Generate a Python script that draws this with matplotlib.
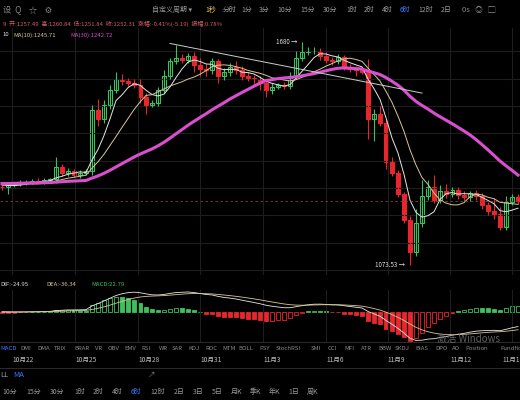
import matplotlib
matplotlib.use("Agg")
import matplotlib.pyplot as plt
import numpy as np
import pandas as pd

plt.rcParams['font.family'] = ['Noto Sans CJK SC', 'DejaVu Sans']

history = [1288,1292,1285,1290,1295,1298,1300,1296,1302,1305,1300,1298,1303,1308,1310,
           1306,1300,1302,1307,1311,1309,1305,1300,1298,1302,1306,1304,1300,1296,1292]
closes = [1290,1296,1300,1302,1305,1308,1306,1310,1312,
          1345,1330,1335,1325,1330,1335,
          1505,1480,1520,1560,1590,1585,1580,
          1575,1540,1520,1525,1560,
          1600,1640,1650,1645,
          1655,1630,1620,1615,1640,1600,
          1610,1625,1615,1600,1595,1590,
          1580,1560,1570,1575,1572,1600,
          1650,1665,1668,1670,1655,
          1645,1640,1652,1625,1620,1615,1612,
          1480,1495,1470,1360,1330,1270,1200,1110,1190,1265,1290,1255,1280,1270,1282,
          1268,1262,1275,1265,1240,1225,1215,1180,1250,1262,1252]
wick_up = [8,6,5,8,6,5,7,6,5, 30,10,8,6,8,5, 15,30,12,15,20,15,8, 10,15,12,8,10,
           15,10,35,12, 8,10,20,12,10,8, 12,10,15,12,10,8, 10,8,10,6,8,12,
           20,30,12,10,8, 10,8,8,6,8,8,10, 35,12,20,10,15,8,6,10,40,45,20,35,15,20,
           10,8,12,6,8,10,8,35,20,15,8,8]
wick_dn = [8,20,5,6,5,6,5,6,5, 10,8,8,6,8,5, 10,20,10,12,8,10,8, 10,15,25,8,10,
           8,10,8,10, 8,20,20,15,10,20, 12,10,10,12,10,15, 20,20,10,8,10,10,
           8,10,8,8,10, 8,10,8,10,8,15,8, 55,60,10,20,10,8,8,37,10,10,10,10,10,10,
           8,10,10,10,10,10,12,12,10,10,8,8]
date_labels = ['10月22','10月25','10月28','10月31','11月3','11月6','11月9','11月12','11月15']
date_pos = [1.7, 12.2, 22.7, 33.0, 43.5, 54.0, 64.3, 74.7, 85.0]
trend_idx = [28, 70]
trend_price = [1690, 1552]
last_close = 1252.31
hi_label, lo_label = 1680, 1073.53
indicators = ['MACD','DMI','DMA','TRIX','BRAR','VR','OBV','EMV','RSI','WR','SAR','KDJ','ROC','MTM',
              'BOLL','PSY','StochRSI','SMI','CCI','MFI','ATR','BBW','SKDJ','BIAS','DPO','AO','Position','Fundflow']
periods_top = ['自定义周期 ▾','1秒','分时','1分','3分','10分','15分','30分','1时','2时','4时','6时','12时','2日']
periods_bot = ['10分','15分','30分','1时','2时','4时','6时','12时','2日','3日','5日','月K','季K','年K','1日','周K']

BG = '#000000'
GREEN = '#3fbf5f'
RED = '#e8262b'
GRID = '#1e1e1e'
W, H = 520, 400
fig = plt.figure(figsize=(5.2, 4.0), dpi=100, facecolor=BG)

def ax_px(x, y, w, h):
    return fig.add_axes([x / W, 1 - (y + h) / H, w / W, h / H])

full = np.array(history + closes, dtype=float)
n = len(closes)
s = pd.Series(full)
ma5 = s.rolling(5).mean().values[-n:]
ma10 = s.rolling(10).mean().values[-n:]
ma30 = s.rolling(30).mean().values[-n:]
opens = np.concatenate([[history[-1]], closes[:-1]])
cl = np.array(closes, dtype=float)
highs = np.maximum(opens, cl) + np.array(wick_up[:n])
lows = np.minimum(opens, cl) - np.array(wick_dn[:n])
idx = np.arange(n)
xlim = (-0.33, 86.33)

# main
ax = ax_px(0, 28, 520, 247)
ax.set_facecolor(BG)
for i in idx:
    up = cl[i] >= opens[i]
    col = GREEN if up else RED
    ax.vlines(i, lows[i], highs[i], color=col, lw=0.8)
    lo_b, hi_b = min(opens[i], cl[i]), max(opens[i], cl[i])
    ax.bar(i, max(hi_b - lo_b, 1.5), bottom=lo_b, width=0.65,
           color=BG if up else col, edgecolor=col, lw=0.8)
ax.plot(idx, ma5, color='#e6e6e6', lw=0.7)
ax.plot(idx, ma10, color='#d8c890', lw=0.7)
ax.plot(idx, ma30, color='#d94fd0', lw=2.2)
ax.plot(trend_idx, trend_price, color='#cccccc', lw=0.7)
ax.axhline(last_close, color='#8a3a3a', lw=0.6, ls=(0, (3, 3)))
ih = int(np.argmax(highs)); il = int(np.argmin(lows))
ax.text(ih - 0.8, highs[ih], f'{hi_label} →', color='#dddddd', fontsize=4.5, ha='right', va='center')
ax.text(il - 0.8, lows[il], f'{lo_label} →', color='#dddddd', fontsize=4.5, ha='right', va='center')
ax.set_xlim(*xlim); ax.set_ylim(1046, 1733)
ax.set_xticks(date_pos); ax.set_yticks(np.arange(1060, 1733, 76))
ax.grid(color=GRID, lw=0.8); ax.tick_params(length=0, labelbottom=False, labelleft=False)
for sp in ax.spines.values(): sp.set_visible(False)

# MACD
ema12 = s.ewm(span=12, adjust=False).mean(); ema26 = s.ewm(span=26, adjust=False).mean()
dif = (ema12 - ema26).values; dea = pd.Series(dif).ewm(span=9, adjust=False).mean().values
macd = 2 * (dif - dea)
hist = macd[-n:]; prev = macd[-n - 1:-1]
dif, dea = dif[-n:], dea[-n:]
am = ax_px(0, 290, 520, 52)
am.set_facecolor(BG)
for i in idx:
    v = hist[i]
    col = GREEN if v >= 0 else RED
    grow = abs(v) > abs(prev[i])
    hollow = (v >= 0 and grow) or (v < 0 and not grow)
    am.bar(i, v, width=0.6, color=BG if hollow else col, edgecolor=col, lw=0.6)
am.plot(idx, dif, color='#e8e8e8', lw=0.6)
am.plot(idx, dea, color='#d8c890', lw=0.6)
am.set_xlim(*xlim)
lo_v = min(np.nanmin(dif), np.nanmin(hist)); hi_v = max(np.nanmax(dif), np.nanmax(hist))
am.set_ylim(lo_v * 1.05, hi_v * 1.1)
am.set_xticks(date_pos); am.grid(axis='x', color=GRID, lw=0.8)
am.tick_params(length=0, labelbottom=False, labelleft=False)
for sp in am.spines.values(): sp.set_visible(False)

# texts
t = fig.text
def py(y): return 1 - y / H
t(0.005, py(10), '设  Q    ☆    ⚙', color='#888888', fontsize=6, va='center')
xx = 152
for p in periods_top:
    col = '#3d7bff' if p == '6时' else ('#e8c060' if p == '1秒' else '#999999')
    t(xx / W, py(10), p, color=col, fontsize=5.0, va='center')
    xx += len(p) * 5.0 + 8 if not p.startswith('自') else 53
t(462 / W, py(10), '0s   ◎   ▢', color='#888888', fontsize=5.5, va='center')
t(0.005, py(24), '9  开:1257.49  高:1260.84  低:1251.84  收:1252.31  涨幅:-0.41%(-5.19)  振幅:0.78%',
  color='#d06060', fontsize=4.3, va='center')
t(0.005, py(35), '10', color='#dddddd', fontsize=4.3, va='center')
t(0.025, py(35), 'MA(10):1245.71', color='#d8c890', fontsize=4.3, va='center')
t(0.135, py(35), 'MA(30):1242.72', color='#d94fd0', fontsize=4.3, va='center')
t(0.0, py(285), 'DIF:-24.95', color='#dddddd', fontsize=4.3, va='center')
t(0.09, py(285), 'DEA:-36.34', color='#d8c890', fontsize=4.3, va='center')
t(0.175, py(285), 'MACD:22.79', color=GREEN, fontsize=4.3, va='center')
xx = 0
for k in indicators:
    t(xx / W, py(349), k, color='#3d7bff' if k == 'MACD' else '#8a8a8a', fontsize=4.3, va='center')
    xx += len(k) * 3.6 + 6.0
fig.add_artist(plt.Line2D([0, 1], [py(342), py(342)], color='#333333', lw=0.6))
fig.add_artist(plt.Line2D([0, 1], [py(368), py(368)], color='#333333', lw=0.6))
for lab, p in zip(date_labels[:-1], date_pos[:-1]):
    xf = (p - xlim[0]) / (xlim[1] - xlim[0])
    t(xf, py(360), lab, color='#bbbbbb', fontsize=4.8, va='center', ha='left')
t(1.0, py(360), '11月1', color='#bbbbbb', fontsize=4.8, va='center', ha='right')
t(0.0, py(375), 'LL', color='#999999', fontsize=5.5, va='center')
t(0.025, py(375), 'MA', color='#3d7bff', fontsize=5.5, va='center')
t(0.285, py(375), '↗', color='#777777', fontsize=5.5, va='center')
xx = 2
for p in periods_bot:
    t(xx / W, py(392), p, color='#3d7bff' if p == '6时' else '#999999', fontsize=5.0, va='center')
    xx += len(p) * 5 + 9
t(0.84, py(339), '激活 Windows', color='#777777', fontsize=7, va='center', alpha=0.8)

fig.savefig('out.png', dpi=100, facecolor=BG)
